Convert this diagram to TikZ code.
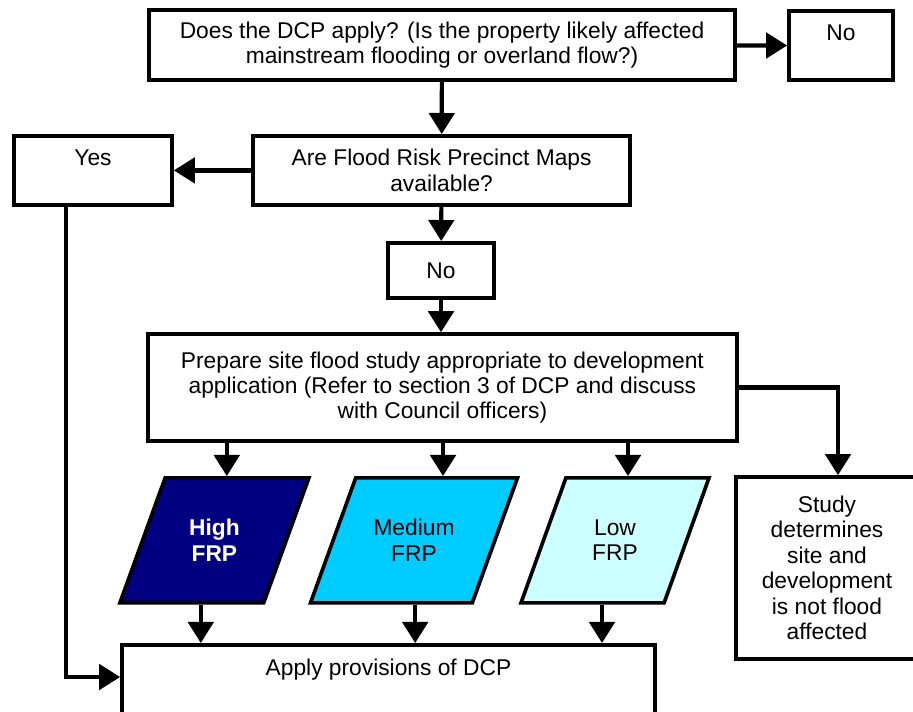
\documentclass[tikz,border=0pt]{standalone}
\usepackage{fontspec}
\setmainfont{Liberation Sans}
\usepackage{tikz}
\usetikzlibrary{positioning}
\usetikzlibrary{shapes.geometric}
\usetikzlibrary{arrows.meta}

\definecolor{riesgoalto}{RGB}{0,0,128}
\definecolor{riesgomedio}{RGB}{0,204,255}
\definecolor{riesgobajo}{RGB}{204,255,255}

\begin{document}
\begin{tikzpicture}[every node/.style={font=\fontsize{16.2}{18.1}\selectfont},
    caja/.style={draw, line width=2.6pt, rectangle, inner sep=0pt, align=center},
    para/.style={draw, line width=2.6pt, trapezium, trapezium left angle=69.4, trapezium right angle=110.6,
        trapezium stretches body=true, inner xsep=0pt, inner ysep=0.98cm, minimum height=3.125cm, align=center},
    flecha/.style={-{Triangle[width=18pt,length=15pt]}, line width=3pt}]
            \clip (0,0) rectangle (22.825,-17.775);
            % Nodos
            \node[caja, minimum width=14.65cm, minimum height=1.75cm] (dcp) at (11.05,-1.125) {Does the DCP apply? (Is the property likely affected\\mainstream flooding or overland flow?)};
            \node[caja, minimum width=2.6cm, minimum height=1.73cm] (no1) at (21.025,-1.14) {No\\~};
            \node[caja, minimum width=9.43cm, minimum height=1.725cm] (mapas) at (11.04,-4.26) {Are Flood Risk Precinct Maps\\available?};
            \node[caja, minimum width=3.95cm, minimum height=1.725cm] (yes) at (2.325,-4.26) {Yes\\~};
            \node[caja, minimum width=2.65cm, minimum height=1.375cm] (no2) at (11.025,-6.76) {No};
            \node[caja, minimum width=14.72cm, minimum height=2.675cm] (prep) at (11.06,-9.69) {Prepare site flood study appropriate to development\\application (Refer to section 3 of DCP and discuss\\with Council officers)};
            \node[para, fill=riesgoalto, text=white, minimum width=4.725cm] (high) at (5.36,-13.51) {\bfseries High\\\bfseries FRP};
            \node[para, fill=riesgomedio, minimum width=5.175cm] (medium) at (10.35,-13.51) {Medium\\FRP};
            \node[para, fill=riesgobajo, minimum width=4.7cm] (low) at (15.375,-13.51) {Low\\FRP};
            \node[caja, anchor=north, minimum width=13.325cm, text depth=2cm, inner ysep=0.35cm] (apply) at (9.7125,-16.075) {Apply provisions of DCP};
            \node[caja, minimum width=4.55cm, minimum height=4.55cm] (study) at (20.675,-14.2) {Study\\determines\\site and\\development\\is not flood\\affected};
            \coordinate (yesbend) at (1.65,-16.925);

            % Aristas
            \draw[flecha] (dcp) -- (no1);
            \draw[flecha] (dcp) -- (mapas);
            \draw[flecha] (mapas) -- (yes);
            \draw[flecha] (mapas) -- (no2);
            \draw[flecha] (no2) -- (no2 |- prep.north);
            \draw[flecha] ([xshift=0.31cm]high.north |- prep.south) -- ([xshift=0.31cm]high.north);
            \draw[flecha] ([xshift=0.725cm]medium.north |- prep.south) -- ([xshift=0.725cm]medium.north);
            \draw[flecha] ([xshift=0.325cm]low.north |- prep.south) -- ([xshift=0.325cm]low.north);
            \draw[flecha] (prep.east) -| ([xshift=0.275cm]study.north);
            \draw[flecha] ([xshift=-0.34cm]high.south) -- ([xshift=-0.34cm]high.south |- apply.north);
            \draw[flecha] ([xshift=0.03cm]medium.south) -- ([xshift=0.03cm]medium.south |- apply.north);
            \draw[flecha] ([xshift=-0.325cm]low.south) -- ([xshift=-0.325cm]low.south |- apply.north);
            \draw[flecha] (yes.south -| yesbend) -- (yesbend) -- (yesbend -| apply.west);
          \end{tikzpicture}
\end{document}
